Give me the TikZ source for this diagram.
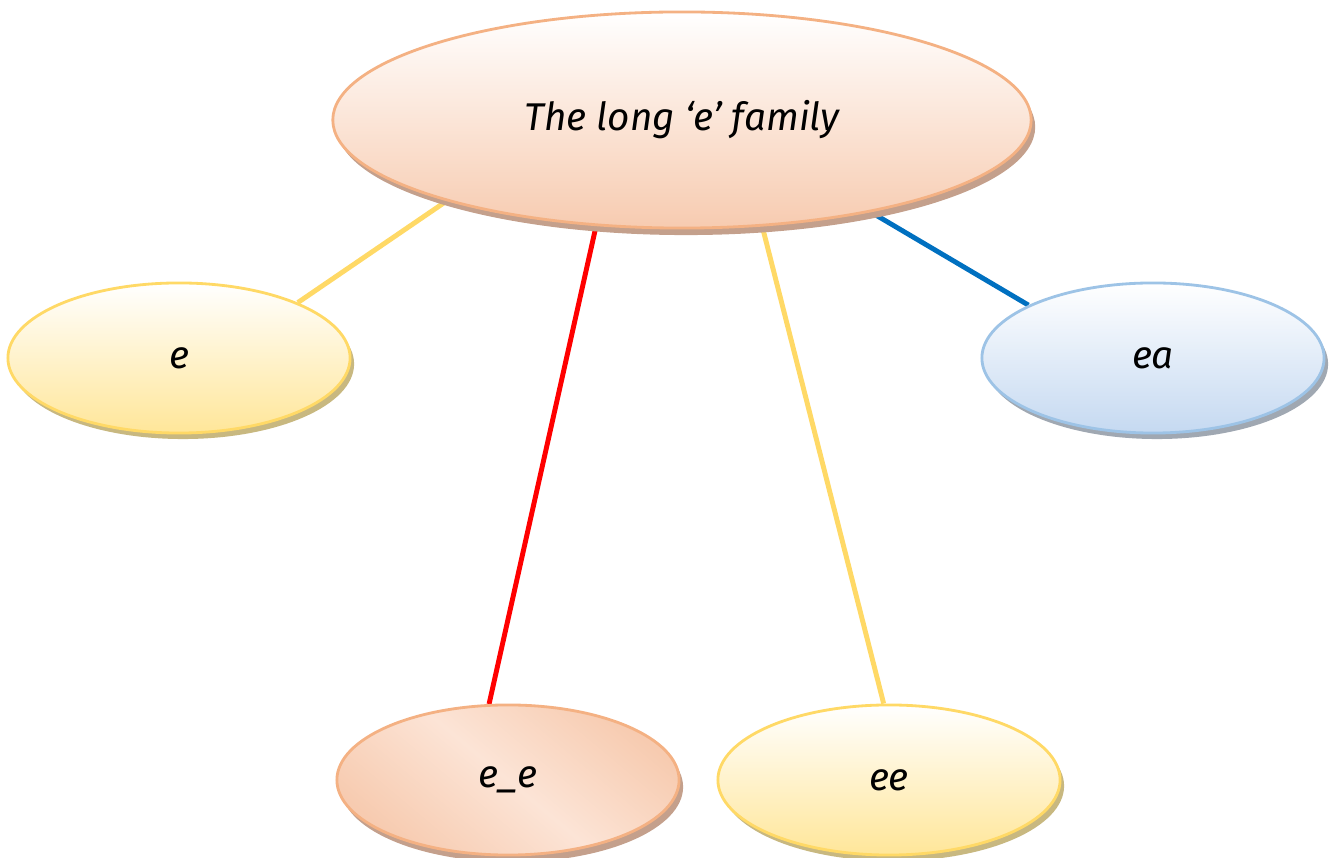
\documentclass[tikz,border=0pt]{standalone}
\usepackage{fontspec}
\setmainfont{Fira Sans}
\definecolor{fam_peach}{RGB}{244, 177, 131}
\definecolor{fam_peachfill}{RGB}{247, 203, 176}
\definecolor{fam_peachlight}{RGB}{252, 228, 214}
\definecolor{fam_peachshadow}{RGB}{196, 160, 140}
\definecolor{fam_gold}{RGB}{255, 217, 102}
\definecolor{fam_goldfill}{RGB}{255, 230, 153}
\definecolor{fam_goldshadow}{RGB}{200, 184, 128}
\definecolor{fam_blue}{RGB}{157, 195, 230}
\definecolor{fam_bluefill}{RGB}{197, 217, 241}
\definecolor{fam_blueshadow}{RGB}{160, 168, 178}
\definecolor{fam_red}{RGB}{255, 0, 0}
\definecolor{fam_line}{RGB}{0, 112, 192}
\usepackage{tikz}
\usetikzlibrary{shapes.geometric, shadows, backgrounds}

\begin{document}
\begin{tikzpicture}[
        x=0.01cm, y=-0.01cm,
        bubble/.style={ellipse, line width=0.8pt,
                       minimum width=3.42cm, minimum height=1.5cm,
                       font=\fontsize{11}{13}\selectfont\itshape},
        peach/.style={bubble, draw=fam_peach, top color=white, bottom color=fam_peachfill,
                      general shadow={fill=fam_peachshadow, shadow xshift=0.04cm, shadow yshift=-0.07cm}},
        gold/.style={bubble, draw=fam_gold, top color=white, bottom color=fam_goldfill,
                     general shadow={fill=fam_goldshadow, shadow xshift=0.04cm, shadow yshift=-0.06cm}},
        sky/.style={bubble, draw=fam_blue, top color=white, bottom color=fam_bluefill,
                    general shadow={fill=fam_blueshadow, shadow xshift=0.04cm, shadow yshift=-0.06cm}},
        link/.style={line width=1.4pt},
      ]
        \useasboundingbox (0,0) rectangle (1332,858);

        \node[peach, minimum width=6.98cm, minimum height=2.16cm] (long) at (682,120) {The long ‘e’ family};
        \node[gold] (e) at (179,358) {e};
        \node[sky] (ea) at (1153,358) {ea};
        \node[peach, top color=fam_peachfill, bottom color=fam_peachfill,
              middle color=fam_peachlight, shading angle=-40] (split) at (508,780) {e\_e};
        \node[gold] (ee) at (889,780) {ee};

        \begin{scope}[on background layer]
          \draw[link, fam_gold] (long.199) -- (e.25);
          \draw[link, fam_red]  (long.231) -- (split.104);
          \draw[link, fam_gold] (long.307) -- (ee.94);
          \draw[link, fam_line] (long.334) -- (ea.157);
        \end{scope}
      \end{tikzpicture}
\end{document}
